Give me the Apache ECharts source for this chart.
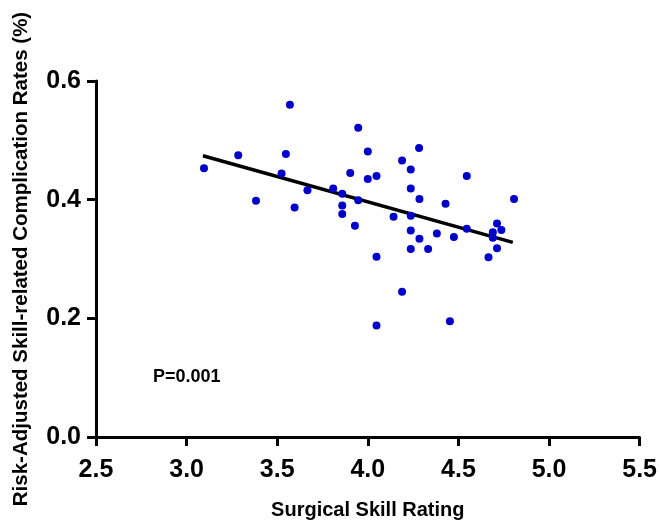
<!DOCTYPE html>
<html>
<head>
<meta charset="utf-8">
<script src="https://cdn.jsdelivr.net/npm/echarts@6/dist/echarts.min.js"></script>
<style>html,body{margin:0;padding:0;background:#fff}#c{width:660px;height:525px}</style>
</head>
<body>
<div id="c"></div>
<script>
const skillRating = [3.570,3.947,3.285,3.548,3.096,3.903,3.524,3.667,3.809,3.859,3.947,3.383,3.596,3.859,3.859,3.929,4.000,4.283,4.189,4.237,4.000,4.048,4.546,4.237,4.285,4.807,4.429,4.142,4.237,4.713,4.737,4.546,4.237,4.381,4.690,4.690,4.285,4.475,4.237,4.333,4.713,4.666,4.048,4.189,4.048,4.453];
const complicationRate = [0.560,0.521,0.475,0.477,0.453,0.445,0.444,0.416,0.419,0.410,0.399,0.398,0.387,0.390,0.376,0.356,0.481,0.487,0.466,0.451,0.435,0.440,0.440,0.419,0.401,0.401,0.393,0.371,0.373,0.360,0.349,0.351,0.348,0.343,0.345,0.336,0.334,0.337,0.317,0.317,0.318,0.303,0.304,0.245,0.188,0.195];
const fitX = [3.09, 4.80];
const fitY = [0.474, 0.328];
const xTicks = [2.5, 3.0, 3.5, 4.0, 4.5, 5.0, 5.5];
const yTicks = [0.0, 0.2, 0.4, 0.6];
const pLabel = 'P=0.001';

const font = "'Liberation Sans', Arial, Helvetica, sans-serif";
const chart = echarts.init(document.getElementById('c'));
const axisCommon = {
  axisLine: {show: true, onZero: false, lineStyle: {color: '#000', width: 3}},
  axisTick: {show: true, inside: false, length: 9, lineStyle: {color: '#000', width: 3}},
  splitLine: {show: false},
  axisLabel: {color: '#000', fontFamily: font, fontWeight: 'bold', fontSize: 25, formatter: v => v.toFixed(1)},
  nameTextStyle: {color: '#000', fontFamily: font, fontWeight: 'bold', fontSize: 20}
};
chart.setOption({
  animation: false,
  grid: {left: 96, right: 20, top: 81, bottom: 82, containLabel: false},
  xAxis: Object.assign({}, axisCommon, {
    type: 'value', min: xTicks[0], max: xTicks[xTicks.length-1], interval: 0.5,
    name: 'Surgical Skill Rating', nameLocation: 'middle', nameGap: 63,
    axisLabel: Object.assign({}, axisCommon.axisLabel, {margin: 21})
  }),
  yAxis: Object.assign({}, axisCommon, {
    type: 'value', min: yTicks[0], max: yTicks[yTicks.length-1], interval: 0.2,
    name: 'Risk-Adjusted Skill-related Complication Rates (%)', nameLocation: 'middle', nameGap: 64,
    nameTextStyle: Object.assign({}, axisCommon.nameTextStyle, {fontSize: 20.5}),
    axisLabel: Object.assign({}, axisCommon.axisLabel, {margin: 15})
  }),
  graphic: [{
    type: 'text', left: 153, top: 368,
    style: {text: pLabel, fill: '#000', font: 'bold 18px ' + font}
  }],
  series: [
    {
      type: 'line', data: fitX.map((x, i) => [x, fitY[i]]),
      symbol: 'none', lineStyle: {color: '#000', width: 3.5}, z: 2, silent: true
    },
    {
      type: 'scatter', data: skillRating.map((x, i) => [x, complicationRate[i]]),
      symbolSize: 8, itemStyle: {color: '#0000c8', opacity: 1}, z: 3
    }
  ]
});
</script>
</body>
</html>
